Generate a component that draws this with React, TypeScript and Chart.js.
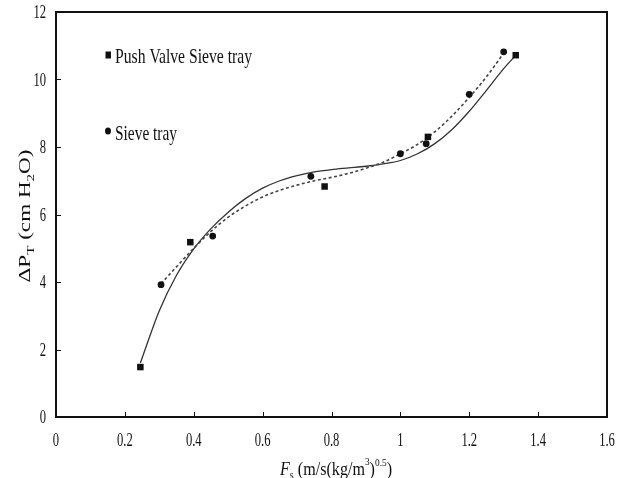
import { useEffect, useRef } from "react";
import { Chart, registerables } from "chart.js";

Chart.register(...registerables);

// Measured points: pressure drop vs. F-factor
const pushValveFs = [0.245, 0.39, 0.78, 1.08, 1.335];
const pushValveDp = [1.48, 5.18, 6.83, 8.3, 10.72];
const sieveFs = [0.305, 0.455, 0.74, 1.0, 1.075, 1.2, 1.3];
const sieveDp = [3.92, 5.36, 7.13, 7.8, 8.1, 9.56, 10.82];

// Trend curves (solid: push valve sieve tray, dashed: sieve tray)
const pushTrendFs = [0.245, 0.3, 0.35, 0.4, 0.45, 0.5, 0.55, 0.6, 0.65, 0.7, 0.75, 0.8, 0.85, 0.9, 0.95, 1.0, 1.05, 1.1, 1.15, 1.2, 1.25, 1.3, 1.335];
const pushTrendDp = [1.6, 3.15, 4.2, 4.98, 5.58, 6.07, 6.47, 6.78, 7.0, 7.15, 7.26, 7.33, 7.38, 7.43, 7.5, 7.6, 7.8, 8.1, 8.52, 9.06, 9.68, 10.32, 10.72];
const sieveTrendFs = [0.305, 0.35, 0.4, 0.45, 0.5, 0.55, 0.6, 0.65, 0.7, 0.75, 0.8, 0.85, 0.9, 0.95, 1.0, 1.05, 1.1, 1.15, 1.2, 1.25, 1.3];
const sieveTrendDp = [3.95, 4.45, 5.0, 5.5, 5.92, 6.25, 6.52, 6.72, 6.87, 7.0, 7.1, 7.22, 7.37, 7.55, 7.8, 8.08, 8.45, 8.92, 9.47, 10.08, 10.78];

const xTickValues = [0, 0.2, 0.4, 0.6, 0.8, 1.0, 1.2, 1.4, 1.6];
const xTickLabels = ["0", "0.2", "0.4", "0.6", "0.8", "1", "1.2", "1.4", "1.6"];
const yTickValues = [0, 2, 4, 6, 8, 10, 12];
const yTickLabels = ["0", "2", "4", "6", "8", "10", "12"];

const legendLabels = ["Push Valve Sieve tray", "Sieve tray"];

const SERIF = '"Liberation Serif", "DejaVu Serif", serif';

type Seg = { t: string; size: number; dy?: number; italic?: boolean };

function segFont(s: Seg) {
  return `${s.italic ? "italic " : ""}${s.size}px ${SERIF}`;
}

function measureSegs(ctx: CanvasRenderingContext2D, segs: Seg[]) {
  let w = 0;
  for (const s of segs) {
    ctx.font = segFont(s);
    w += ctx.measureText(s.t).width;
  }
  return w;
}

// Draws a run of text pieces (with sub/superscripts) centred on the origin,
// squeezed along its length to the given width.
function drawSegs(ctx: CanvasRenderingContext2D, segs: Seg[], targetWidth: number) {
  const w = measureSegs(ctx, segs);
  const sx = targetWidth / w;
  ctx.save();
  ctx.scale(sx, 1);
  let x = -w / 2;
  ctx.textAlign = "left";
  ctx.textBaseline = "alphabetic";
  for (const s of segs) {
    ctx.font = segFont(s);
    ctx.fillText(s.t, x, s.dy || 0);
    x += ctx.measureText(s.t).width;
  }
  ctx.restore();
}

function drawSqueezed(
  ctx: CanvasRenderingContext2D,
  text: string,
  x: number,
  y: number,
  size: number,
  sx: number,
  align: CanvasTextAlign,
  baseline: CanvasTextBaseline
) {
  ctx.save();
  ctx.translate(x, y);
  ctx.scale(sx, 1);
  ctx.font = `${size}px ${SERIF}`;
  ctx.textAlign = align;
  ctx.textBaseline = baseline;
  ctx.fillText(text, 0, 0);
  ctx.restore();
}

const decorPlugin = {
  id: "decor",
  afterDatasetsDraw(chart: any) {
    const { ctx, chartArea: a, scales } = chart;
    const xs = scales.x;
    const ys = scales.y;
    ctx.save();
    ctx.fillStyle = "#111";
    ctx.strokeStyle = "#111";

    // frame
    ctx.lineWidth = 2;
    ctx.strokeRect(a.left, a.top, a.right - a.left, a.bottom - a.top);

    // inward tick marks
    ctx.lineWidth = 1;
    ctx.beginPath();
    xTickValues.forEach((v) => {
      const px = Math.round(xs.getPixelForValue(v)) + 0.5;
      ctx.moveTo(px, a.bottom);
      ctx.lineTo(px, a.bottom - 5);
    });
    yTickValues.forEach((v) => {
      const py = Math.round(ys.getPixelForValue(v)) + 0.5;
      ctx.moveTo(a.left, py);
      ctx.lineTo(a.left + 5, py);
    });
    ctx.stroke();

    // tick labels
    xTickValues.forEach((v, i) => {
      drawSqueezed(ctx, xTickLabels[i], xs.getPixelForValue(v), a.bottom + 29, 18, 0.7, "center", "alphabetic");
    });
    yTickValues.forEach((v, i) => {
      drawSqueezed(ctx, yTickLabels[i], a.left - 10, ys.getPixelForValue(v) + 6, 18, 0.7, "right", "alphabetic");
    });

    // x axis title
    ctx.save();
    ctx.translate(336, 475);
    drawSegs(
      ctx,
      [
        { t: "F", size: 19, italic: true },
        { t: "s", size: 12, dy: 4 },
        { t: " (m/s(kg/m", size: 19 },
        { t: "3", size: 11, dy: -10 },
        { t: ")", size: 19 },
        { t: "0.5", size: 11, dy: -9 },
        { t: ")", size: 19 },
      ],
      112
    );
    ctx.restore();

    // y axis title
    ctx.save();
    ctx.translate(30, 216);
    ctx.rotate(-Math.PI / 2);
    drawSegs(
      ctx,
      [
        { t: "\u0394P", size: 17 },
        { t: "T", size: 11, dy: 4 },
        { t: " (cm H", size: 17 },
        { t: "2", size: 11, dy: 4 },
        { t: "O)", size: 17 },
      ],
      133
    );
    ctx.restore();

    // legend
    ctx.fillRect(105.5, 51.5, 5.5, 7);
    ctx.font = `22px ${SERIF}`;
    const w1 = ctx.measureText(legendLabels[0]).width;
    drawSqueezed(ctx, legendLabels[0], 115, 63, 22, 137 / w1, "left", "alphabetic");

    ctx.beginPath();
    ctx.ellipse(108, 131, 3, 3.6, 0, 0, Math.PI * 2);
    ctx.fill();
    const w2 = ctx.measureText(legendLabels[1]).width;
    drawSqueezed(ctx, legendLabels[1], 115, 140, 22, 62 / w2, "left", "alphabetic");

    ctx.restore();
  },
};

function toXY(xs: number[], ys: number[]) {
  return xs.map((x, i) => ({ x, y: ys[i] }));
}

export default function App() {
  const canvasRef = useRef<HTMLCanvasElement | null>(null);

  useEffect(() => {
    const canvas = canvasRef.current;
    if (!canvas) return;
    const chart = new Chart(canvas, {
      type: "scatter",
      data: {
        datasets: [
          {
            label: "Push Valve Sieve tray trend",
            data: toXY(pushTrendFs, pushTrendDp),
            showLine: true,
            borderColor: "#333",
            borderWidth: 1.3,
            pointRadius: 0,
            cubicInterpolationMode: "monotone",
            order: 3,
          },
          {
            label: "Sieve tray trend",
            data: toXY(sieveTrendFs, sieveTrendDp),
            showLine: true,
            borderColor: "#444",
            borderWidth: 1.6,
            borderDash: [3, 2.5],
            pointRadius: 0,
            cubicInterpolationMode: "monotone",
            order: 2,
          },
          {
            label: legendLabels[0],
            data: toXY(pushValveFs, pushValveDp),
            pointStyle: "rect",
            pointRadius: 4.6,
            backgroundColor: "#111",
            borderColor: "#111",
            borderWidth: 0,
            order: 1,
          },
          {
            label: legendLabels[1],
            data: toXY(sieveFs, sieveDp),
            pointStyle: "circle",
            pointRadius: 3.4,
            backgroundColor: "#111",
            borderColor: "#111",
            borderWidth: 0,
            order: 0,
          },
        ],
      },
      options: {
        animation: false,
        responsive: false,
        maintainAspectRatio: false,
        events: [],
        layout: { padding: { top: 12, right: 18, left: 0, bottom: 0 } },
        plugins: {
          legend: { display: false },
          tooltip: { enabled: false },
          title: { display: false },
        },
        scales: {
          x: {
            type: "linear",
            min: 0,
            max: 1.6,
            ticks: { display: false, stepSize: 0.2 },
            grid: { display: false },
            border: { display: false },
            afterFit: (s: any) => {
              s.height = 61;
            },
          },
          y: {
            type: "linear",
            min: 0,
            max: 12,
            ticks: { display: false, stepSize: 2 },
            grid: { display: false },
            border: { display: false },
            afterFit: (s: any) => {
              s.width = 56;
            },
          },
        },
      },
      plugins: [decorPlugin],
    } as any);
    return () => chart.destroy();
  }, []);

  return (
    <div style={{ position: "fixed", left: 0, top: 0, width: 625, height: 478, background: "#fff" }}>
      <canvas ref={canvasRef} width={625} height={478} style={{ display: "block", width: 625, height: 478 }} />
    </div>
  );
}
